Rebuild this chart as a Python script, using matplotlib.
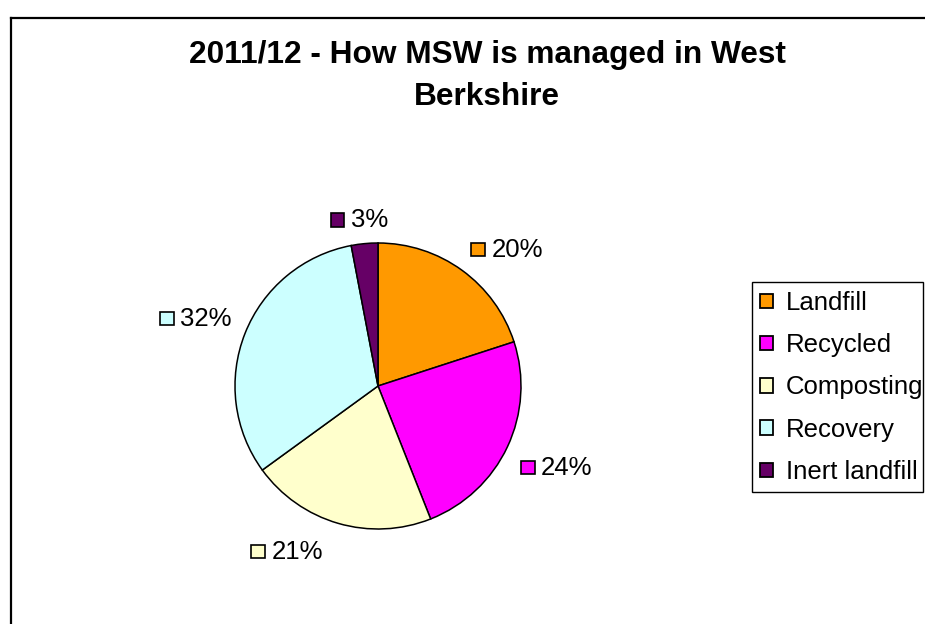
import matplotlib
matplotlib.use("Agg")
import matplotlib.pyplot as plt
from matplotlib.patches import Rectangle, Patch
from matplotlib.offsetbox import DrawingArea, TextArea, HPacker, AnnotationBbox
from matplotlib.transforms import offset_copy
import numpy as np

plt.rcParams['font.family'] = ['Liberation Sans', 'DejaVu Sans']

categories = ["Landfill", "Recycled", "Composting", "Recovery", "Inert landfill"]
shares = [20, 24, 21, 32, 3]
colors = ["#FF9900", "#FF00FF", "#FFFFCC", "#CCFFFF", "#660066"]
title_lines = ["2011/12 - How MSW is managed in West", "Berkshire"]

# extra label shift in pixels (x right, y down) to keep labels clear of neighbours
label_shift = {"Composting": (-11, 0)}

W, H = 925, 624
fig = plt.figure(figsize=(W / 100, H / 100), dpi=100)
fig.patch.set_facecolor("white")

# chart-area frame (left and top edges visible)
fig.add_artist(plt.Line2D([11 / W, 11 / W], [0, 1 - 18 / H], transform=fig.transFigure,
                          color="black", lw=1.6))
fig.add_artist(plt.Line2D([11 / W, 1], [1 - 18 / H, 1 - 18 / H], transform=fig.transFigure,
                          color="black", lw=1.6))

for line, base in zip(title_lines, [63, 105]):
    fig.text(487 / W, 1 - base / H, line, ha="center", va="baseline", fontsize=22.8,
             fontweight="bold")

cx, cy, r = 378, 386, 143
ax = fig.add_axes([(cx - r) / W, (H - cy - r) / H, 2 * r / W, 2 * r / H])
wedges, _ = ax.pie(shares, colors=colors, startangle=90, counterclock=False,
                   wedgeprops=dict(edgecolor="black", linewidth=1.1))
ax.set_xlim(-1, 1)
ax.set_ylim(-1, 1)
ax.set_aspect("equal")
ax.axis("off")

# percentage labels with colour keys; the label corner nearest the pie sits on the
# radial line through the middle of each wedge
cum = np.cumsum([0] + shares[:-1])
for name, val, start, col in zip(categories, shares, cum, colors):
    mid = np.deg2rad(90 - 360 * (start + val / 2) / sum(shares))
    dx, dy = np.cos(mid), np.sin(mid)
    da = DrawingArea(10.5, 10, 0, 0)
    da.add_artist(Rectangle((0.4, 0.4), 10, 9.6, facecolor=col, edgecolor="black", lw=1.2))
    ta = TextArea(f"{val}%", textprops=dict(fontsize=18.5, color="black"))
    box = HPacker(children=[da, ta], pad=0, sep=4.5, align="center")
    if abs(dx) < 0.2:
        bx = 0.5 - 0.5 * dx / 0.2 * 0.3
    elif dx > 0:
        bx = 0.0
    else:
        bx = 1.0
    by = 0.0 if dy > 0 else 1.0
    sx, sy = label_shift.get(name, (0, 0))
    tr = offset_copy(ax.transData, fig=fig, x=sx, y=-(sy + 3), units="dots")
    ab = AnnotationBbox(box, (1.1 * dx, 1.1 * dy), xycoords=tr,
                        box_alignment=(bx, by), frameon=False, pad=0,
                        annotation_clip=False)
    ax.add_artist(ab)

# legend with a square-cornered frame
fig.add_artist(Rectangle((752 / W, 1 - 492 / H), 171 / W, 210 / H,
                         transform=fig.transFigure, fill=False, edgecolor="black", lw=1.0))
handles = [Patch(facecolor=c, edgecolor="black", lw=1.3) for c in colors]
leg = fig.legend(handles, categories, loc="upper left",
                 bbox_to_anchor=(760 / W, 1 - 291 / H), bbox_transform=fig.transFigure,
                 borderaxespad=0, fontsize=18.5, frameon=False,
                 handlelength=0.5, handleheight=0.5, handletextpad=0.5,
                 labelspacing=0.71, borderpad=0)

fig.savefig("out.png", dpi=100, facecolor="white")
